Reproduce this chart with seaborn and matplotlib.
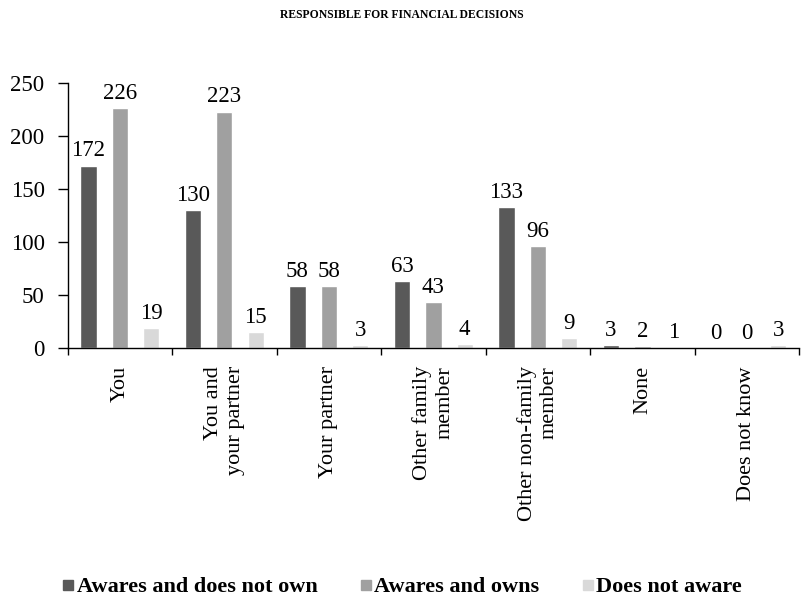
import matplotlib
matplotlib.use("Agg")
import matplotlib.pyplot as plt
from matplotlib.lines import Line2D
import numpy as np
import pandas as pd
import seaborn as sns

# Who is responsible for financial decisions, split by awareness / ownership
categories = ["You", "You and\nyour partner", "Your partner", "Other family\nmember",
              "Other non-family\nmember", "None", "Does not know"]
series = ["Awares and does not own", "Awares and owns", "Does not aware"]
aware_not_own = [172, 130, 58, 63, 133, 3, 0]
aware_owns = [226, 223, 58, 43, 96, 2, 0]
not_aware = [19, 15, 3, 4, 9, 1, 3]
colors = ["#595959", "#a0a0a0", "#d9d9d9"]
yticks = [0, 50, 100, 150, 200, 250]
title = "RESPONSIBLE FOR FINANCIAL DECISIONS"

df = pd.DataFrame({
    "category": categories * 3,
    "series": [s for s in series for _ in categories],
    "value": aware_not_own + aware_owns + not_aware,
})

sns.set_theme(style="white")
plt.rcParams["font.family"] = ["Liberation Serif", "DejaVu Serif"]
plt.rcParams["text.color"] = "black"
plt.rcParams["xtick.color"] = "black"
plt.rcParams["ytick.color"] = "black"
plt.rcParams["axes.edgecolor"] = "black"

fig = plt.figure(figsize=(8.04, 6.01), dpi=100)
ax = fig.add_axes([0.084, 0.421, 0.910, 0.441])

sns.barplot(data=df, x="category", y="value", hue="series", order=categories,
            hue_order=series, palette=colors, saturation=1, width=0.9, gap=0.48,
            legend=False, ax=ax)

for cont in ax.containers:
    ax.bar_label(cont, fmt="%d", padding=3, fontsize=16.5)

ax.set_xlim(-0.5, 6.5)
ax.set_ylim(0, 250)
ax.set_yticks(yticks)
ax.set_xlabel("")
ax.set_ylabel("")

ax.set_xticks(range(len(categories)))
ax.set_xticklabels(categories, rotation=90, ha="center", va="top",
                   multialignment="right", fontsize=16)
ax.set_xticks(np.arange(-0.5, len(categories), 1), minor=True)
ax.tick_params(axis="x", which="major", length=0, pad=13)
ax.tick_params(axis="x", which="minor", length=5, width=1, direction="out",
               bottom=True)
ax.tick_params(axis="y", length=7.5, width=1, direction="out", pad=9,
               labelsize=16.5, left=True)

for side in ["top", "right"]:
    ax.spines[side].set_visible(False)
for side in ["left", "bottom"]:
    ax.spines[side].set_linewidth(1)
    ax.spines[side].set_color("black")

fig.text(0.5, 1 - 15 / 601, title, ha="center", va="center",
         fontsize=8.4, fontweight="bold")

handles = [Line2D([], [], marker="s", linestyle="none", markersize=7.5,
                  color=c) for c in colors]
fig.legend(handles, series, loc="center", bbox_to_anchor=(0.5, 1 - 587 / 601),
           ncol=3, frameon=False, prop=dict(weight="bold", size=16),
           handlelength=0.55, handletextpad=0.1, columnspacing=1.9)

fig.savefig("out.png", dpi=100)
